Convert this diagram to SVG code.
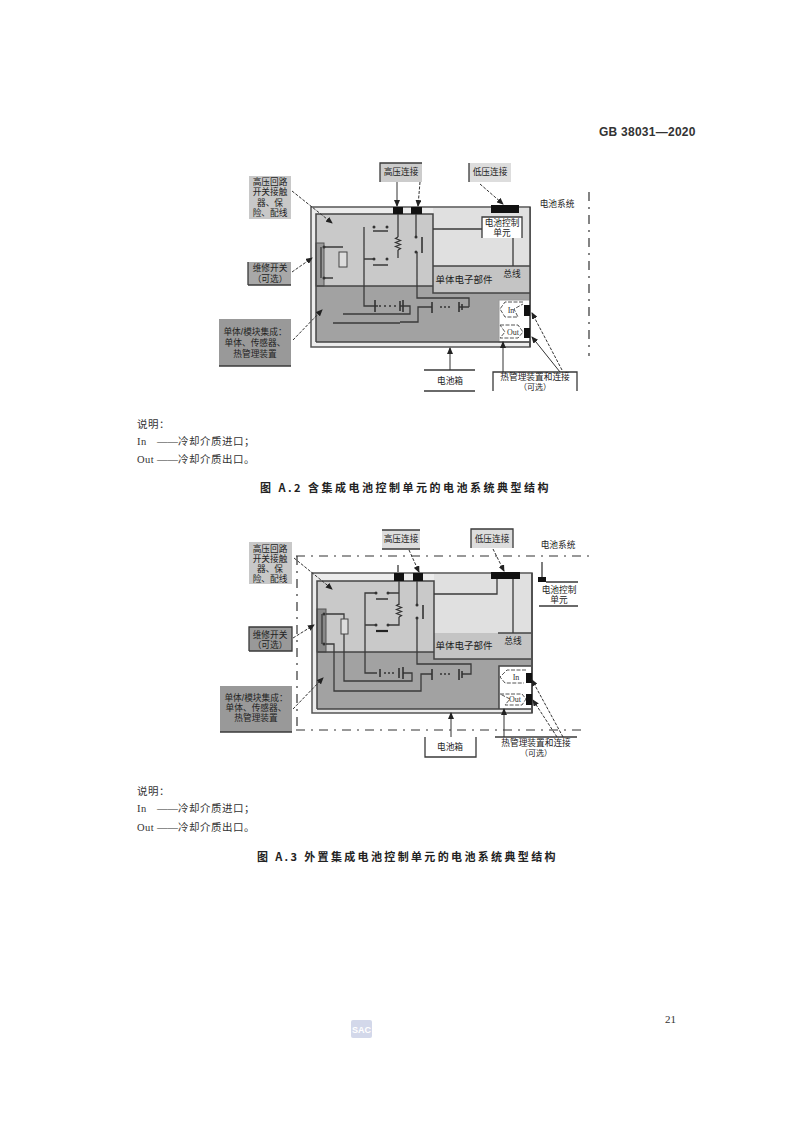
<svg xmlns="http://www.w3.org/2000/svg" width="800" height="1131" viewBox="0 0 800 1131">
<style>
.t{font-family:"Liberation Serif","Noto Sans CJK SC",serif;fill:#333}
.b{font-size:10.5px;letter-spacing:.5px}
.cap{font-family:"Noto Sans CJK SC","Liberation Sans",sans-serif;font-size:11px;font-weight:700;fill:#222;letter-spacing:2.5px}
.l{font-family:"Liberation Sans","Noto Sans CJK SC",sans-serif;font-size:8.7px;fill:#222;text-anchor:middle;dominant-baseline:central}
.w{fill:none;stroke:#3a3a3a;stroke-width:1.3}
.th{fill:none;stroke:#333;stroke-width:1.6}
.f{fill:none;stroke:#444;stroke-width:1.5}
.c{fill:none;stroke:#555;stroke-width:1;stroke-dasharray:4 1.500}
.a{fill:none;stroke:#333;stroke-width:1;marker-end:url(#ah)}
.d{fill:none;stroke:#333;stroke-width:1;stroke-dasharray:3 1.5;marker-end:url(#ah)}
.fr{fill:none;stroke:#333;stroke-width:1.2;stroke-dasharray:9 6 2 6}
.k{fill:#111}
.p{fill:#333}
</style>
<defs>
<marker id="ah" markerWidth="7" markerHeight="6" refX="6" refY="3" orient="auto"><path d="M0 0L7 3L0 6Z" fill="#222"/></marker>
<path id="res" d="M0 0L-2.500 1.500L2.500 3.500L-2.500 5.500L2.500 7.500L-2.500 9.500L2.500 11.500L0 13" fill="none" stroke="#333" stroke-width="1.2"/>
</defs>
<rect width="800" height="1131" fill="#fff"/>

<g id="page-text">
<text class="t" x="599" y="136" font-size="12" font-weight="700" letter-spacing=".25" style="font-family:'Liberation Sans',sans-serif">GB 38031—2020</text>
<text class="t b" x="137" y="428">说明：</text>
<text class="t b" x="137" y="445">In<tspan x="157" letter-spacing="0">——</tspan><tspan x="178">冷却介质进口；</tspan></text>
<text class="t b" x="137" y="463">Out<tspan x="157" letter-spacing="0">——</tspan><tspan x="178">冷却介质出口。</tspan></text>
<text class="cap" x="260" y="492">图 A.2  含集成电池控制单元的电池系统典型结构</text>
<text class="t b" x="137" y="795">说明：</text>
<text class="t b" x="137" y="812">In<tspan x="157" letter-spacing="0">——</tspan><tspan x="178">冷却介质进口；</tspan></text>
<text class="t b" x="137" y="831">Out<tspan x="157" letter-spacing="0">——</tspan><tspan x="178">冷却介质出口。</tspan></text>
<text class="cap" x="257" y="861" style="letter-spacing:2.35px">图 A.3  外置集成电池控制单元的电池系统典型结构</text>
<text class="t" x="665" y="1023" font-size="11">21</text>
</g>
<g id="logo">
<rect x="351" y="1020" width="21" height="18" rx="2" fill="#d3d8ea"/>
<text x="361.500" y="1033" font-size="9" font-weight="700" fill="#fff" text-anchor="middle" style="font-family:'Liberation Sans',sans-serif">SAC</text>
</g>

<!-- Figure A.2 -->
<g id="a2-pack">
<rect x="311" y="207" width="219" height="140" fill="#ececec" stroke="#555" stroke-width="1.500"/>
<rect x="316" y="214" width="214" height="128" fill="#a2a2a2"/>
<rect x="433" y="208" width="97" height="58" fill="#e0e0e0"/>
<rect x="316" y="214" width="117" height="72" fill="#c9c9c9"/>
<rect x="433" y="266" width="97" height="27" fill="#c4c4c4"/>
<rect x="316" y="243" width="8" height="43" fill="#999" stroke="#555"/>
<rect x="499" y="300" width="31" height="42" fill="#fff" stroke="#999"/>
<path class="f" d="M316 342V214H433V293H530M433 266H530M316 286H433M316 342H530M530 207V347"/>
</g>
<g id="a2-circuit">
<path class="w" d="M364 227V306H375M375 306H378M400 306H410V314H343M400 322H418V307H432M364 259H374M373 231H388M373 265H388M398 214V237M398 250V258M416 214V237M433 229H482M513 238V266M469 307V298H417V252M459 307H469M333 323H400M324 247H343M324 278H333M321 247V278"/>
<path class="th" d="M422 237V253M375 300V312M400 301V311M403 300V312M432 302V313M459 302V312M462 304V310"/>
<use href="#res" x="398" y="237"/>
<rect x="339" y="252" width="8" height="15" fill="#ddd" stroke="#444"/>
<circle class="p" cx="374" cy="227" r="1.500"/><circle class="p" cx="387" cy="227" r="1.500"/>
<circle class="p" cx="374" cy="259" r="1.500"/><circle class="p" cx="387" cy="259" r="1.500"/>
<circle class="p" cx="416" cy="237" r="1.500"/><circle class="p" cx="416" cy="252" r="1.500"/>
<circle class="p" cx="324" cy="247" r="1.500"/><circle class="p" cx="324" cy="278" r="1.500"/>
<circle class="p" cx="380" cy="306" r="1"/><circle class="p" cx="385" cy="306" r="1"/><circle class="p" cx="390" cy="306" r="1"/><circle class="p" cx="395" cy="306" r="1"/>
<circle class="p" cx="441" cy="307" r="1"/><circle class="p" cx="445" cy="307" r="1"/><circle class="p" cx="449" cy="307" r="1"/>
</g>
<g id="a2-hv-connector-1"><rect class="k" x="393" y="207" width="10" height="7"/></g>
<g id="a2-hv-connector-2"><rect class="k" x="411" y="207" width="11" height="7"/></g>
<g id="a2-lv-connector"><rect class="k" x="491" y="205" width="28" height="8"/></g>
<g id="a2-bms"><rect x="482" y="217" width="40" height="21" fill="#fff"/><path class="w" d="M482 238V217H522V238"/><text class="l"><tspan x="502" y="223">电池控制</tspan><tspan x="502" y="233">单元</tspan></text></g>
<g id="a2-electronics"><text class="l" x="464" y="279" style="font-size:9.500px">单体电子部件</text><text class="l" x="512" y="274">总线</text></g>
<g id="a2-cooling">
<path class="c" d="M523 302H505L500 309L505 317H518L514 309L523 304M500 325H518L523 332L518 338H500L505 332Z"/>
<text class="t" x="511" y="313" font-size="8" text-anchor="middle">In</text>
<text class="t" x="513" y="334.500" font-size="8" text-anchor="middle">Out</text>
<rect class="k" x="524" y="305" width="6" height="11"/><rect class="k" x="524" y="328" width="6" height="10"/>
</g>
<g id="a2-label-hv-circuit"><rect x="249" y="176" width="42" height="43" fill="#c8c8c8"/><text class="l"><tspan x="270" y="182">高压回路</tspan><tspan x="270" y="192">开关接触</tspan><tspan x="270" y="203">器、保</tspan><tspan x="270" y="213">险、配线</tspan></text></g>
<g id="a2-label-service"><rect x="248" y="262" width="43" height="23" fill="#a8a8a8"/><path class="w" d="M248 285H291M248 262V285"/><text class="l"><tspan x="270" y="268">维修开关</tspan><tspan x="270" y="279">（可选）</tspan></text></g>
<g id="a2-label-cell"><rect x="219" y="319" width="72" height="47" fill="#999"/><path class="w" d="M219 366H291"/><text class="l"><tspan x="255" y="332">单体/模块集成：</tspan><tspan x="255" y="343">单体、传感器、</tspan><tspan x="255" y="353.500">热管理装置</tspan></text></g>
<g id="a2-label-hv"><rect x="380" y="163" width="42" height="19" fill="#ccc"/><path class="w" d="M380 182V163H422"/><text class="l" x="401" y="172">高压连接</text></g>
<g id="a2-label-lv"><rect x="469" y="163" width="42" height="19" fill="#ddd"/><path class="w" d="M469 163V182"/><text class="l" x="490" y="172">低压连接</text></g>
<g id="a2-label-system"><text class="l" x="557" y="204">电池系统</text></g>
<g id="a2-label-case"><path class="w" d="M424 370H475M424 391H475"/><text class="l" x="450" y="381">电池箱</text></g>
<g id="a2-label-thermal"><rect x="493" y="372" width="84" height="19" fill="#fff"/><path class="w" d="M493 391V372H577V391"/><text class="l"><tspan x="535" y="377">热管理装置和连接</tspan><tspan x="535" y="386.500" font-size="8">（可选）</tspan></text></g>
<g id="a2-connectors">
<path class="fr" d="M589 192V356"/>
<path class="d" d="M292 191L332 223"/>
<path class="d" d="M292 272L312 258"/>
<path class="d" d="M293 340L322 310"/>
<path class="a" d="M397 182V206"/>
<path class="d" d="M420 182L418 206"/>
<path class="d" d="M480 184L503 204"/>
<path class="a" d="M450 370V348"/>
<path class="a" d="M503 372V342"/>
<path class="d" d="M562 370L532 313"/>
<path class="a" d="M560 372L532 337"/>
</g>

<!-- Figure A.3 -->
<g id="a3-pack">
<rect x="312" y="573" width="220" height="140" fill="#ececec" stroke="#555" stroke-width="1.500"/>
<rect x="317" y="581" width="214" height="128" fill="#a2a2a2"/>
<rect x="434" y="574" width="97" height="59" fill="#e0e0e0"/>
<rect x="317" y="581" width="117" height="71" fill="#c9c9c9"/>
<rect x="434" y="633" width="97" height="26" fill="#c4c4c4"/>
<rect x="317" y="609" width="9" height="43" fill="#888" stroke="#555"/>
<rect x="499" y="666" width="32" height="43" fill="#fff"/>
<path class="f" d="M317 709V581H434V659H531M498 633H531M317 652H434M317 709H531M499 709V666H531M532 573V713"/>
</g>
<g id="a3-circuit">
<path class="w" d="M375 593H365V673H377M365 625H376M388 593H399M388 625H399V617M399 581V605M326 614H344V681H412V673H403M326 644H334V691H421V674H432M417 581V605M417 618V664H471V674H462M322 614V644M497 579V594H434M513 579V633"/>
<path class="th" d="M376 599H388M380 669V677M399 668V678M403 667V679M432 669V680M459 669V680M462 671V678M423 605V619"/>
<path d="M376 631H388" stroke="#222" stroke-width="2.200" fill="none"/>
<use href="#res" x="399" y="604"/>
<rect x="341" y="619" width="7" height="15" fill="#ddd" stroke="#444"/>
<circle class="p" cx="376" cy="593" r="1.500"/><circle class="p" cx="388" cy="593" r="1.500"/>
<circle class="p" cx="376" cy="625" r="1.500"/><circle class="p" cx="388" cy="625" r="1.500"/>
<circle class="p" cx="417" cy="605" r="1.500"/><circle class="p" cx="417" cy="618" r="1.500"/>
<circle class="p" cx="324" cy="614" r="1.500"/><circle class="p" cx="324" cy="644" r="1.500"/>
<circle class="p" cx="385" cy="673" r="1"/><circle class="p" cx="389" cy="673" r="1"/><circle class="p" cx="393" cy="673" r="1"/>
<circle class="p" cx="441" cy="674" r="1"/><circle class="p" cx="445" cy="674" r="1"/><circle class="p" cx="449" cy="674" r="1"/>
</g>
<g id="a3-hv-connector-1"><rect class="k" x="394" y="573" width="10" height="8"/></g>
<g id="a3-hv-connector-2"><rect class="k" x="413" y="573" width="10" height="8"/></g>
<g id="a3-lv-connector"><rect class="k" x="491" y="572" width="29" height="7"/></g>
<g id="a3-electronics"><text class="l" x="464" y="645" style="font-size:9.500px">单体电子部件</text><text class="l" x="513" y="641">总线</text></g>
<g id="a3-cooling">
<path class="c" d="M526 670H507L500 677L505 683H524M500 694H522L526 699L522 705H505L510 699L500 694"/>
<text class="t" x="516" y="680" font-size="8" text-anchor="middle">In</text>
<text class="t" x="515" y="702" font-size="8" text-anchor="middle">Out</text>
<rect class="k" x="526" y="673" width="6" height="10"/><rect class="k" x="526" y="694" width="6" height="11"/>
</g>
<g id="a3-bms"><path class="w" d="M542 562V578M546 582H578M539 606H578"/><rect class="k" x="538" y="577" width="8" height="5"/><text class="l"><tspan x="559" y="590">电池控制</tspan><tspan x="559" y="600">单元</tspan></text></g>
<g id="a3-label-hv-circuit"><rect x="249" y="542" width="43" height="42" fill="#c8c8c8"/><text class="l"><tspan x="270" y="549">高压回路</tspan><tspan x="270" y="559">开关接触</tspan><tspan x="270" y="569">器、保</tspan><tspan x="270" y="579">险、配线</tspan></text></g>
<g id="a3-label-service"><rect x="249" y="627" width="43" height="24" fill="#999"/><path class="w" d="M249 651V627H292V651H249"/><text class="l"><tspan x="270" y="634.500">维修开关</tspan><tspan x="270" y="645">（可选）</tspan></text></g>
<g id="a3-label-cell"><rect x="220" y="686" width="72" height="46" fill="#999"/><path class="w" d="M220 732H292"/><text class="l"><tspan x="256" y="698">单体/模块集成：</tspan><tspan x="256" y="708">单体、传感器、</tspan><tspan x="256" y="718">热管理装置</tspan></text></g>
<g id="a3-label-hv"><rect x="382" y="530" width="38" height="19" fill="#ddd"/><path class="w" d="M382 549H420M382 530H420"/><text class="l" x="401" y="539">高压连接</text></g>
<g id="a3-label-lv"><rect x="471" y="529" width="42" height="19" fill="#ddd"/><path class="w" d="M471 548V529H513V548"/><text class="l" x="492" y="539">低压连接</text></g>
<g id="a3-label-system"><text class="l" x="558" y="545">电池系统</text></g>
<g id="a3-label-case"><path class="w" d="M425 737V757H476V737"/><text class="l" x="450" y="747">电池箱</text></g>
<g id="a3-label-thermal"><rect x="495" y="738" width="82" height="19" fill="#fff"/><path class="w" d="M495 737H577"/><text class="l"><tspan x="536" y="743">热管理装置和连接</tspan><tspan x="536" y="752.500" font-size="8">（可选）</tspan></text></g>
<g id="a3-connectors">
<path class="fr" d="M296 556H592M297 556V730M296 730H582"/>
<path class="d" d="M294 558L332 589"/>
<path class="d" d="M293 638L314 625"/>
<path class="d" d="M293 709L323 678"/>
<path class="w" d="M398 565V572"/>
<path class="d" d="M409 550L419 572"/>
<path class="d" d="M493 549L504 571"/>
<path class="a" d="M451 737V713"/>
<path class="a" d="M504 737V709"/>
<path class="d" d="M563 737L532 680"/>
<path class="d" d="M557 737L533 700"/>
</g>
</svg>
